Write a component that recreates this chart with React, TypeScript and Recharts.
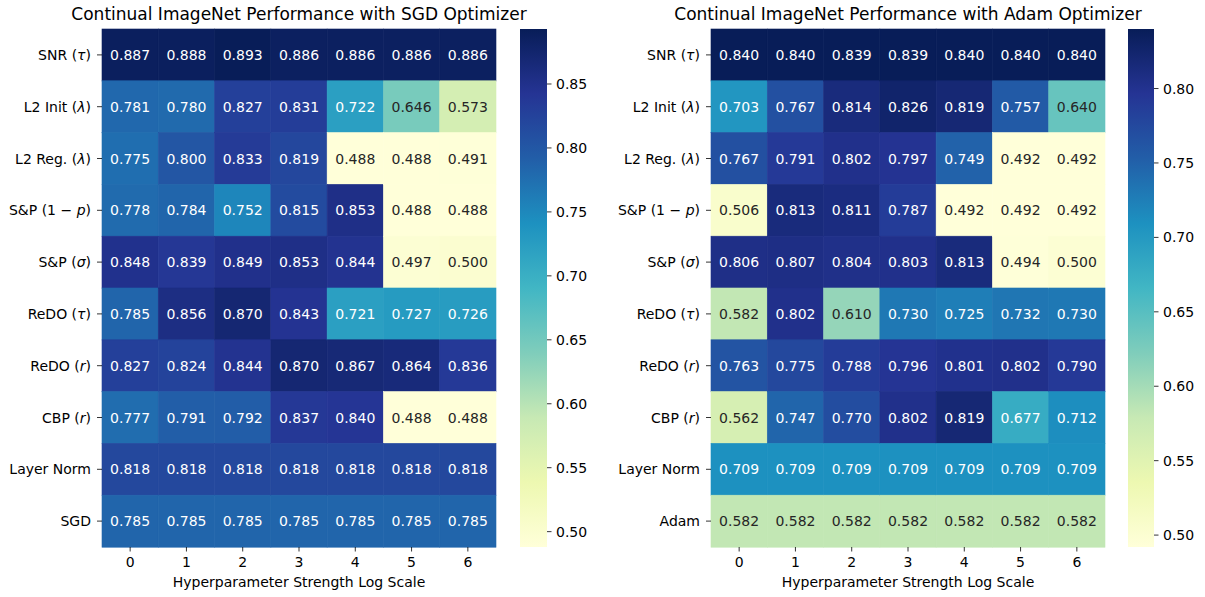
import React from "react";
import { BarChart, Bar, XAxis, YAxis } from "recharts";

// hyperparameter strength (log scale) columns
const strengths = [0, 1, 2, 3, 4, 5, 6];

const sgdRows = ["SNR (τ)", "L2 Init (λ)", "L2 Reg. (λ)", "S&P (1 − p)", "S&P (σ)", "ReDO (τ)", "ReDO (r)", "CBP (r)", "Layer Norm", "SGD"];
const adamRows = ["SNR (τ)", "L2 Init (λ)", "L2 Reg. (λ)", "S&P (1 − p)", "S&P (σ)", "ReDO (τ)", "ReDO (r)", "CBP (r)", "Layer Norm", "Adam"];

// SGD optimizer
const sgdSnr = [0.887, 0.888, 0.893, 0.886, 0.886, 0.886, 0.886];
const sgdL2Init = [0.781, 0.78, 0.827, 0.831, 0.722, 0.646, 0.573];
const sgdL2Reg = [0.775, 0.8, 0.833, 0.819, 0.488, 0.488, 0.491];
const sgdSpP = [0.778, 0.784, 0.752, 0.815, 0.853, 0.488, 0.488];
const sgdSpSigma = [0.848, 0.839, 0.849, 0.853, 0.844, 0.497, 0.5];
const sgdRedoTau = [0.785, 0.856, 0.87, 0.843, 0.721, 0.727, 0.726];
const sgdRedoR = [0.827, 0.824, 0.844, 0.87, 0.867, 0.864, 0.836];
const sgdCbp = [0.777, 0.791, 0.792, 0.837, 0.84, 0.488, 0.488];
const sgdLayerNorm = [0.818, 0.818, 0.818, 0.818, 0.818, 0.818, 0.818];
const sgdBase = [0.785, 0.785, 0.785, 0.785, 0.785, 0.785, 0.785];

// Adam optimizer
const adamSnr = [0.84, 0.84, 0.839, 0.839, 0.84, 0.84, 0.84];
const adamL2Init = [0.703, 0.767, 0.814, 0.826, 0.819, 0.757, 0.64];
const adamL2Reg = [0.767, 0.791, 0.802, 0.797, 0.749, 0.492, 0.492];
const adamSpP = [0.506, 0.813, 0.811, 0.787, 0.492, 0.492, 0.492];
const adamSpSigma = [0.806, 0.807, 0.804, 0.803, 0.813, 0.494, 0.5];
const adamRedoTau = [0.582, 0.802, 0.61, 0.73, 0.725, 0.732, 0.73];
const adamRedoR = [0.763, 0.775, 0.788, 0.796, 0.801, 0.802, 0.79];
const adamCbp = [0.562, 0.747, 0.77, 0.802, 0.819, 0.677, 0.712];
const adamLayerNorm = [0.709, 0.709, 0.709, 0.709, 0.709, 0.709, 0.709];
const adamBase = [0.582, 0.582, 0.582, 0.582, 0.582, 0.582, 0.582];

const sgdValues = [sgdSnr, sgdL2Init, sgdL2Reg, sgdSpP, sgdSpSigma, sgdRedoTau, sgdRedoR, sgdCbp, sgdLayerNorm, sgdBase];
const adamValues = [adamSnr, adamL2Init, adamL2Reg, adamSpP, adamSpSigma, adamRedoTau, adamRedoR, adamCbp, adamLayerNorm, adamBase];

const sgdTicks = [0.5, 0.55, 0.6, 0.65, 0.7, 0.75, 0.8, 0.85];
const adamTicks = [0.5, 0.55, 0.6, 0.65, 0.7, 0.75, 0.8];

const FONT = "DejaVu Sans";
const YLGNBU = ["#ffffd9", "#edf8b1", "#c7e9b4", "#7fcdbb", "#41b6c4", "#1d91c0", "#225ea8", "#253494", "#081d58"];

const hexRgb = (h: string) => [1, 3, 5].map((i) => parseInt(h.slice(i, i + 2), 16));

function cmap(t: number): number[] {
  const idx = Math.min(255, Math.max(0, Math.floor(t * 256)));
  const pos = (idx / 255) * 8;
  const k = Math.min(7, Math.floor(pos));
  const f = pos - k;
  const a = hexRgb(YLGNBU[k]);
  const b = hexRgb(YLGNBU[k + 1]);
  return a.map((c, i) => Math.round(c + (b[i] - c) * f));
}

function luminance(rgb: number[]) {
  const lin = rgb.map((c) => {
    const s = c / 255;
    return s <= 0.03928 ? s / 12.92 : Math.pow((s + 0.055) / 1.055, 2.4);
  });
  return 0.2126 * lin[0] + 0.7152 * lin[1] + 0.0722 * lin[2];
}

const rgbStr = (c: number[]) => `rgb(${c[0]},${c[1]},${c[2]})`;

// row label with the math symbols in italics
function RowTick(props: any) {
  const { x, y, payload } = props;
  const label: string = payload.value;
  const open = label.indexOf("(");
  const parts: { t: string; it: boolean }[] = [];
  if (open < 0) {
    parts.push({ t: label, it: false });
  } else {
    parts.push({ t: label.slice(0, open + 1), it: false });
    for (const ch of label.slice(open + 1)) {
      const it = /[τλσpr]/.test(ch);
      const last = parts[parts.length - 1];
      if (last.it === it) last.t += ch;
      else parts.push({ t: ch, it });
    }
  }
  return (
    <text x={x} y={y} dy="0.36em" textAnchor="end" fontSize={14} fontFamily={FONT} fill="#000">
      {parts.map((p, i) => (
        <tspan key={i} fontStyle={p.it ? "italic" : "normal"}>
          {p.t}
        </tspan>
      ))}
    </text>
  );
}

function Heatmap({ rows, values, width, yWidth }: { rows: string[]; values: number[][]; width: number; yWidth: number }) {
  const flat = values.flat();
  const vmin = Math.min(...flat);
  const vmax = Math.max(...flat);

  const table = rows.map((name, i) => {
    const r: any = { name };
    strengths.forEach((s, j) => {
      r[`v${s}`] = values[i][j];
      r[`u${s}`] = 1;
    });
    return r;
  });

  const cell = (s: number) => (props: any) => {
    const { x, y, width: w, height: h, payload } = props;
    const v = payload[`v${s}`];
    const c = cmap((v - vmin) / (vmax - vmin));
    const fill = rgbStr(c);
    return (
      <g>
        <rect x={x} y={y} width={w} height={h} fill={fill} stroke={fill} strokeWidth={0.6} />
        <text
          x={x + w / 2}
          y={y + h / 2}
          dy="0.36em"
          textAnchor="middle"
          fontSize={14}
          fontFamily={FONT}
          fill={luminance(c) > 0.408 ? "#262626" : "#ffffff"}
        >
          {v.toFixed(3)}
        </text>
      </g>
    );
  };

  return (
    <BarChart
      layout="vertical"
      width={width}
      height={597}
      data={table}
      margin={{ top: 29, right: 4, bottom: 0, left: 0 }}
      barCategoryGap={0}
      barGap={0}
    >
      <XAxis
        type="number"
        domain={[0, strengths.length]}
        ticks={strengths.map((s) => s + 0.5)}
        tickFormatter={(v: number) => String(v - 0.5)}
        interval={0}
        height={50}
        axisLine={false}
        tickLine={{ stroke: "#000", strokeWidth: 0.8 }}
        tickSize={4.5}
        tickMargin={6}
        tick={{ fontSize: 14, fontFamily: FONT, fill: "#000" }}
        label={{
          value: "Hyperparameter Strength Log Scale",
          position: "insideBottom",
          offset: 10,
          fontSize: 14,
          fontFamily: FONT,
          fill: "#000",
        }}
      />
      <YAxis
        type="category"
        dataKey="name"
        width={yWidth}
        axisLine={false}
        tickLine={{ stroke: "#000", strokeWidth: 0.8 }}
        tickSize={5}
        tickMargin={6}
        interval={0}
        tick={<RowTick />}
      />
      {strengths.map((s) => (
        <Bar key={s} dataKey={`u${s}`} stackId="row" isAnimationActive={false} shape={cell(s)} />
      ))}
    </BarChart>
  );
}

function ColorBar({ values, ticks, id, width }: { values: number[][]; ticks: number[]; id: string; width: number }) {
  const flat = values.flat();
  const data = [{ name: "cb", range: [Math.min(...flat), Math.max(...flat)] }];
  return (
    <BarChart width={width + 60} height={597} data={data} margin={{ top: 29, right: 0, bottom: 50, left: 0 }} barCategoryGap={0}>
      <defs>
        <linearGradient id={id} x1="0" y1="1" x2="0" y2="0">
          {YLGNBU.map((c, i) => (
            <stop key={i} offset={i / (YLGNBU.length - 1)} stopColor={c} />
          ))}
        </linearGradient>
      </defs>
      <XAxis dataKey="name" hide />
      <YAxis
        orientation="right"
        type="number"
        domain={data[0].range}
        allowDataOverflow
        ticks={ticks}
        interval={0}
        tickFormatter={(v: number) => v.toFixed(2)}
        width={60}
        axisLine={false}
        tickLine={{ stroke: "#000", strokeWidth: 0.8 }}
        tickSize={4.5}
        tickMargin={4.5}
        tick={{ fontSize: 14, fontFamily: FONT, fill: "#000" }}
      />
      <Bar dataKey="range" fill={`url(#${id})`} isAnimationActive={false} />
    </BarChart>
  );
}

export default function App() {
  return (
    <div
      style={{
        position: "absolute",
        left: 0,
        top: 0,
        width: 1205,
        height: 597,
        background: "#fff",
        overflow: "hidden",
        fontFamily: FONT,
      }}
    >
      <div style={{ position: "absolute", left: 0, top: 0 }}>
        <Heatmap rows={sgdRows} values={sgdValues} width={500} yWidth={102} />
      </div>
      <div style={{ position: "absolute", left: 520, top: 0 }}>
        <ColorBar values={sgdValues} ticks={sgdTicks} id="cbSgd" width={27} />
      </div>
      <div style={{ position: "absolute", left: 600, top: 0 }}>
        <Heatmap rows={adamRows} values={adamValues} width={509} yWidth={111} />
      </div>
      <div style={{ position: "absolute", left: 1128, top: 0 }}>
        <ColorBar values={adamValues} ticks={adamTicks} id="cbAdam" width={26} />
      </div>
      <svg style={{ position: "absolute", left: 0, top: 0 }} width={1205} height={30}>
        <text x={299} y={19.5} textAnchor="middle" fontSize={17} fontFamily={FONT} fill="#000">
          Continual ImageNet Performance with SGD Optimizer
        </text>
        <text x={908} y={19.5} textAnchor="middle" fontSize={17} fontFamily={FONT} fill="#000">
          Continual ImageNet Performance with Adam Optimizer
        </text>
      </svg>
    </div>
  );
}
